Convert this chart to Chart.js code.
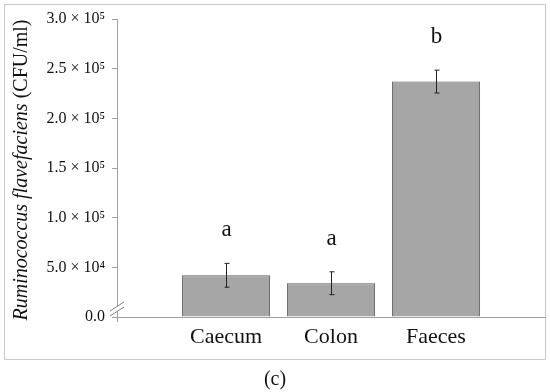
<!DOCTYPE html>
<html>
<head>
<title>Ruminococcus flavefaciens</title>
<script src="https://cdn.jsdelivr.net/npm/chart.js@4.4.0/dist/chart.umd.min.js"></script>
<style>
  body { margin: 0; background: #fff; }
</style>
</head>
<body>
<canvas id="myChart" width="550" height="392"></canvas>
<script>
const categories = ['Caecum', 'Colon', 'Faeces'];
const means = [42000, 34000, 237000];
const errors = [12000, 11500, 11500];
const letters = ['a', 'a', 'b'];
const yTickLabels = ['0.0', '5.0 × 10⁴', '1.0 × 10⁵', '1.5 × 10⁵', '2.0 × 10⁵', '2.5 × 10⁵', '3.0 × 10⁵'];

const serif = "'Liberation Serif', 'DejaVu Serif', serif";

const extras = {
  id: 'extras',
  beforeDraw(chart) {
    const ctx = chart.ctx;
    ctx.save();
    ctx.fillStyle = '#fff';
    ctx.fillRect(0, 0, chart.width, chart.height);
    ctx.strokeStyle = '#c8c8c8';
    ctx.lineWidth = 1;
    ctx.strokeRect(4.5, 4.5, 541, 355);
    ctx.restore();
  },
  afterDraw(chart) {
    const ctx = chart.ctx;
    const x = chart.scales.x, y = chart.scales.y;
    ctx.save();
    // error bars
    ctx.strokeStyle = '#222';
    ctx.lineWidth = 1;
    means.forEach((m, i) => {
      const px = Math.round(x.getPixelForValue(i)) + 0.5;
      const top = y.getPixelForValue(m + errors[i]);
      const bot = y.getPixelForValue(m - errors[i]);
      ctx.beginPath();
      ctx.moveTo(px, top); ctx.lineTo(px, bot);
      ctx.moveTo(px - 2, top); ctx.lineTo(px + 3, top);
      ctx.moveTo(px - 2, bot); ctx.lineTo(px + 3, bot);
      ctx.stroke();
      // significance letters
      ctx.fillStyle = '#111';
      ctx.font = '23px ' + serif;
      ctx.textAlign = 'center';
      ctx.textBaseline = 'middle';
      ctx.fillText(letters[i], px, top - 33);
    });
    // y axis extension below zero
    const ax = chart.chartArea.left + 0.5;
    const zero = y.getPixelForValue(0);
    ctx.strokeStyle = '#a0a0a0';
    ctx.beginPath();
    ctx.moveTo(ax, zero); ctx.lineTo(ax, zero + 5);
    ctx.stroke();
    // axis break
    ctx.fillStyle = '#fff';
    ctx.beginPath();
    ctx.moveTo(110, 311); ctx.lineTo(124, 302); ctx.lineTo(124, 307); ctx.lineTo(110, 316);
    ctx.closePath();
    ctx.fill();
    ctx.strokeStyle = '#808080';
    ctx.beginPath();
    ctx.moveTo(110, 311); ctx.lineTo(124, 302);
    ctx.moveTo(110, 316); ctx.lineTo(124, 307);
    ctx.stroke();
    // y title: italic species + upright unit
    ctx.translate(22, 170);
    ctx.rotate(-Math.PI / 2);
    ctx.fillStyle = '#111';
    ctx.textBaseline = 'middle';
    const fs = 20;
    const p1 = 'Ruminococcus flavefaciens ';
    const p2 = '(CFU/ml)';
    ctx.font = 'italic ' + fs + 'px ' + serif;
    const w1 = ctx.measureText(p1).width;
    ctx.font = fs + 'px ' + serif;
    const w2 = ctx.measureText(p2).width;
    const start = -(w1 + w2) / 2;
    ctx.textAlign = 'left';
    ctx.font = 'italic ' + fs + 'px ' + serif;
    ctx.fillText(p1, start, 0);
    ctx.font = fs + 'px ' + serif;
    ctx.fillText(p2, start + w1, 0);
    ctx.restore();
    // panel label
    ctx.save();
    ctx.fillStyle = '#111';
    ctx.font = '20px ' + serif;
    ctx.textAlign = 'center';
    ctx.textBaseline = 'middle';
    ctx.fillText('(c)', 275, 380);
    ctx.restore();
  }
};

new Chart(document.getElementById('myChart'), {
  type: 'bar',
  data: {
    datasets: [{
      data: means.map((v, i) => ({ x: i, y: v })),
      backgroundColor: '#a6a6a6',
      borderColor: '#5a5a5a',
      borderWidth: 1,
      barPercentage: 0.84,
      categoryPercentage: 1
    }]
  },
  options: {
    responsive: false,
    animation: false,
    layout: { padding: { top: 19, left: 0, right: 5, bottom: 0 } },
    plugins: { legend: { display: false }, tooltip: { enabled: false } },
    scales: {
      x: {
        type: 'linear',
        offset: false,
        min: -1.038,
        max: 3.038,
        afterBuildTicks: s => { s.ticks = categories.map((c, i) => ({ value: i })); },
        afterFit: s => { s.height = 75; },
        grid: { display: false, drawTicks: false },
        border: { color: '#a0a0a0', width: 1 },
        ticks: {
          padding: 7,
          color: '#111',
          font: { family: serif, size: 22 },
          callback: v => categories[v]
        }
      },
      y: {
        min: 0,
        max: 300000,
        afterFit: s => { s.width = 117; },
        grid: { drawOnChartArea: false, drawTicks: true, tickLength: 5, color: '#a0a0a0' },
        border: { color: '#a0a0a0', width: 1 },
        ticks: {
          stepSize: 50000,
          padding: 7,
          color: '#111',
          font: { family: serif, size: 16 },
          callback: (v) => yTickLabels[Math.round(v / 50000)]
        }
      }
    }
  },
  plugins: [extras]
});
</script>
</body>
</html>
